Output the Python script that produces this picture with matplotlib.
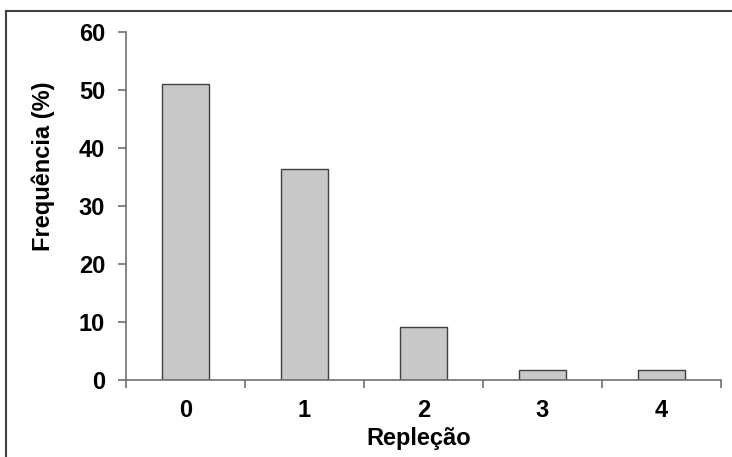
import matplotlib
matplotlib.use('Agg')
import matplotlib.pyplot as plt
from matplotlib.lines import Line2D

# Frequency of stomach repletion classes
categories = ['0', '1', '2', '3', '4']
frequencies = [51.0, 36.4, 9.1, 1.8, 1.8]

plt.rcParams['font.family'] = ['Liberation Sans', 'DejaVu Sans']
plt.rcParams['font.weight'] = 'bold'

fig = plt.figure(figsize=(7.32, 4.57), dpi=100)
ax = fig.add_axes([126 / 732, 77 / 457, 595 / 732, 348 / 457])

positions = list(range(len(categories)))
ax.bar(positions, frequencies, width=0.4, color='#c8c8c8', edgecolor='#404040', linewidth=1.0)

ax.set_xlim(-0.5, len(categories) - 0.5)
ax.set_ylim(0, 60)

axis_color = '#707070'
for side in ['top', 'right']:
    ax.spines[side].set_visible(False)
for side in ['left', 'bottom']:
    ax.spines[side].set_color(axis_color)
    ax.spines[side].set_linewidth(1.2)

ax.set_yticks(range(0, 61, 10))
ax.tick_params(axis='y', direction='out', length=6, width=1.2, color=axis_color, pad=9, labelsize=17)

# boundary ticks without labels, category labels at bar centres
ax.set_xticks([p - 0.5 for p in positions] + [positions[-1] + 0.5])
ax.set_xticklabels([])
ax.set_xticks(positions, minor=True)
ax.tick_params(axis='x', which='major', direction='out', length=6, width=1.2, color=axis_color)
ax.set_xticklabels(categories, minor=True)
ax.tick_params(axis='x', which='minor', length=0, pad=14, labelsize=17)

ax.set_xlabel('Repleção', fontsize=17, fontweight='bold')
ax.xaxis.set_label_coords(0.4916, -0.135)
ax.set_ylabel('Frequência (%)', fontsize=17, fontweight='bold')
ax.yaxis.set_label_coords(-0.12, 0.613)

# frame around the figure (left and top edges)
fig.add_artist(Line2D([6 / 732, 6 / 732], [0, 1 - 11 / 457], color='#404040', linewidth=1.5, transform=fig.transFigure))
fig.add_artist(Line2D([6 / 732, 1], [1 - 11 / 457, 1 - 11 / 457], color='#404040', linewidth=1.5, transform=fig.transFigure))

fig.savefig('out.png', dpi=100)
